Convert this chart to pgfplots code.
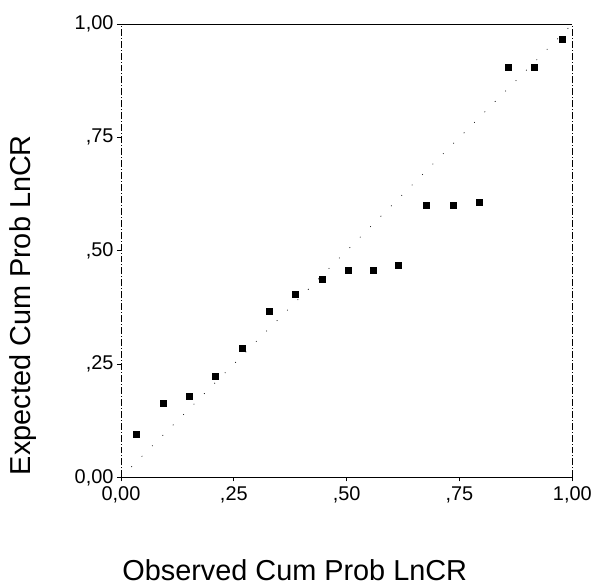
\documentclass[border=0pt]{standalone}
\usepackage{fontspec}
\setmainfont{Liberation Sans}
\usepackage{pgfplots}
\pgfplotsset{compat=1.18}

\pgfplotstableread{
obs   exp
0.034 0.096
0.093 0.164
0.152 0.179
0.209 0.223
0.269 0.286
0.328 0.367
0.386 0.405
0.445 0.438
0.503 0.457
0.558 0.457
0.615 0.468
0.676 0.600
0.735 0.600
0.794 0.608
0.858 0.904
0.915 0.904
0.977 0.967
}\pptable

\begin{document}
\begin{tikzpicture}
\begin{axis}[
  scale only axis, width=452bp, height=454bp,
  xmin=0, xmax=1, ymin=0, ymax=1,
  axis x line=box, axis y line=box, separate axis lines,
  x axis line style={line width=1pt},
  y axis line style={line width=0.8pt, dash pattern=on 7pt off 2pt on 1pt off 2pt},
  xtick={0,0.25,0.5,0.75,1}, ytick={0,0.25,0.5,0.75,1},
  xticklabels={{0,00},{,25},{,50},{,75},{1,00}},
  yticklabels={{0,00},{,25},{,50},{,75},{1,00}},
  xtick pos=left, ytick pos=left,
  tick align=outside, major tick length=4bp,
  tick style={black, line width=0.8pt},
  ticklabel style={font=\fontsize{20}{22}\selectfont},
  xticklabel style={yshift=-2bp},
  xlabel={Observed Cum Prob LnCR},
  ylabel={Expected Cum Prob LnCR},
  label style={font=\fontsize{29}{32}\selectfont},
  xlabel style={at={(axis description cs:0.385,-0.205)}, anchor=center},
  ylabel style={at={(axis description cs:-0.217,0.38)}, anchor=center},
  clip=false,
]
\addplot[black, line width=0.7pt, dash pattern=on 0.8pt off 14pt] coordinates {(0,0) (1,1)};
\addplot[only marks, mark=square*, mark size=3bp, black] table[x=obs, y=exp] {\pptable};
\coordinate (bbsw) at (rel axis cs:-0.268,-0.238);
\coordinate (bbne) at (rel axis cs:1.049,1.053);
\end{axis}
\path (bbsw) rectangle (bbne);
\end{tikzpicture}
\end{document}
